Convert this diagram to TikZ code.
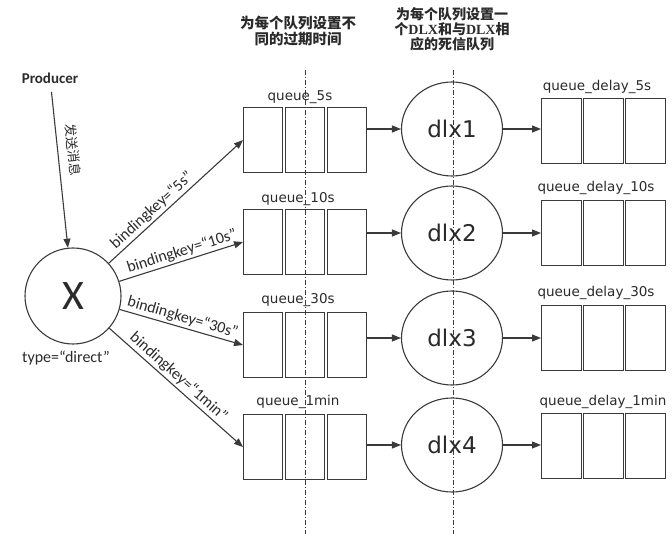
\documentclass[tikz,border=0pt]{standalone}
\usepackage{fontspec}
\setmainfont{Carlito}
\newfontfamily\dejavu{DejaVu Sans}
\newfontfamily\cjk{Noto Sans CJK SC}
\newfontfamily\lserif{Liberation Serif}
\usetikzlibrary{arrows.meta,shapes.geometric}
\definecolor{linec}{HTML}{3A3A3A}
\definecolor{txt}{HTML}{2A2A2A}
\begin{document}
\begin{tikzpicture}[x=1pt,y=-1pt,
  every node/.style={text=txt},
  arr/.style={draw=linec, line width=1.1pt, -{Triangle[length=9pt,width=7pt]}},
  cell/.style={draw=linec, line width=1.1pt, minimum height=65pt, inner sep=0pt, anchor=north west},
  cellL/.style={cell, minimum width=39pt},
  cellR/.style={cell, minimum width=40pt},
  qlab/.style={font=\dejavu\fontsize{13.5}{14}\selectfont, inner sep=0pt},
  dlxnode/.style={ellipse, draw=linec, line width=1.1pt, minimum width=101pt, minimum height=94pt, inner sep=0pt, font=\dejavu\fontsize{23}{23}\selectfont},
  bkey/.style={font=\fontsize{16}{16}\selectfont, sloped, above, inner sep=2pt},
  vline/.style={draw=linec, line width=1pt, dash pattern=on 5pt off 2pt on 1pt off 2pt},
  heading/.style={font=\cjk\bfseries\fontsize{14}{15}\selectfont, align=center, inner sep=0pt}
]
\useasboundingbox (0,0) rectangle (672,540);

% headings
\node[heading, font=\cjk\bfseries\fontsize{14.5}{16}\selectfont] (h1) at (298,31) {为每个队列设置不\\同的过期时间};
\node[heading] (h2) at (452,29) {为每个队列设置一\\个{\lserif\bfseries DLX}和与{\lserif\bfseries DLX}相\\应的死信队列};

% vertical dash-dot guide lines
\coordinate (v1t) at (305,70); \coordinate (v1b) at (305,534);
\coordinate (v2t) at (453,70); \coordinate (v2b) at (453,534);
\draw[vline] (v1t) -- (v1b);
\draw[vline] (v2t) -- (v2b);

% producer and exchange
\node[font=\bfseries\fontsize{15}{15}\selectfont] (prod) at (50,78) {Producer};
\node[circle, draw=linec, line width=1.1pt, minimum size=96pt, inner sep=0pt, font=\fontsize{42}{42}\selectfont] (X) at (73,296) {X};
\node[font=\fontsize{16}{16}\selectfont] (type) at (66,358) {type=“direct”};
\draw[arr, shorten <=5pt] (prod) -- node[pos=0.4, sloped, above, inner sep=9pt, font=\cjk\fontsize{13}{13}\selectfont] {发送消息} (X);

% queues (left)
\foreach \r/\t in {1/107,2/209,3/312,4/414}{
  \node[cellL] (l\r1) at (243,\t) {};
  \node[cellL] (l\r2) at (285,\t) {};
  \node[cellL] (l\r3) at (327,\t) {};
}
\node[qlab] (ql1) at (300,97) {queue\_5s};
\node[qlab] (ql2) at (298,199) {queue\_10s};
\node[qlab] (ql3) at (298,300) {queue\_30s};
\node[qlab] (ql4) at (298,402) {queue\_1min};

% dead letter exchanges
\node[dlxnode] (d1) at (452,129) {dlx1};
\node[dlxnode] (d2) at (452,233) {dlx2};
\node[dlxnode] (d3) at (452,338) {dlx3};
\node[dlxnode] (d4) at (452,445) {dlx4};

% queues (right)
\foreach \r/\t in {1/98,2/200,3/305,4/413}{
  \node[cellR] (r\r1) at (541,\t) {};
  \node[cellR] (r\r2) at (583,\t) {};
  \node[cellR] (r\r3) at (625,\t) {};
}
\node[qlab] (rl1) at (597,87) {queue\_delay\_5s};
\node[qlab] (rl2) at (596,188) {queue\_delay\_10s};
\node[qlab] (rl3) at (596,293) {queue\_delay\_30s};
\node[qlab] (rl4) at (603,402) {queue\_delay\_1min};

% bindings
\draw[arr] (X) -- node[bkey, pos=0.37] {bindingkey=“5s”} (l11.west);
\draw[arr] (X) -- node[bkey, pos=0.53] {bindingkey=“10s”} (l21.west);
\draw[arr] (X) -- node[bkey, pos=0.49] {bindingkey=“30s”} (l31.west);
\draw[arr] (X) -- node[bkey, pos=0.47] {bindingkey=“1min”} (l41.west);

% queue -> dlx -> delay queue
\foreach \r in {1,2,3,4}{
  \draw[arr] (l\r3.east |- d\r.center) -- (d\r);
  \draw[arr] (d\r) -- (r\r1.west |- d\r.center);
}
\end{tikzpicture}
\end{document}
